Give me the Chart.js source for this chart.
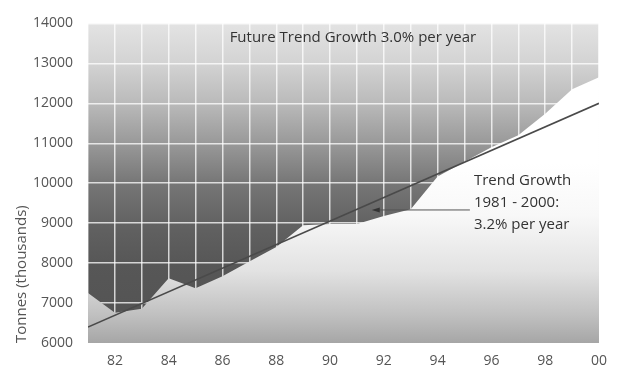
<!DOCTYPE html>
<html>
<head>
<meta charset="utf-8">
<script src="https://cdn.jsdelivr.net/npm/chart.js@4/dist/chart.umd.min.js"></script>
<style>
  html, body { margin: 0; padding: 0; background: #fff; }
  #wrap { width: 617px; height: 371px; }
</style>
</head>
<body>
<div id="wrap"><canvas id="myChart"></canvas></div>
<script>
// Yearly tonnage, 1981 - 2000
var years = [1981, 1982, 1983, 1984, 1985, 1986, 1987, 1988, 1989, 1990,
             1991, 1992, 1993, 1994, 1995, 1996, 1997, 1998, 1999, 2000];
var tonnes = [7250, 6760, 6860, 7620, 7370, 7670, 8040, 8400, 8950, 8980,
              8980, 9180, 9350, 10170, 10540, 10900, 11200, 11740, 12350, 12650];

// straight trend line, first and last year
var trendYears = [1981, 2000];
var trendTonnes = [6400, 12000];

var yTicks = [6000, 7000, 8000, 9000, 10000, 11000, 12000, 13000, 14000];

var textFont = '15px "Open Sans", "DejaVu Sans", sans-serif';

function toPoints(xs, ys) {
  return xs.map(function(x, i) { return {x: x, y: ys[i]}; });
}

// gradient built on y values so it stays tied to the axis
function valueGradient(chart, stops) {
  var y = chart.scales.y;
  var area = chart.chartArea;
  var g = chart.ctx.createLinearGradient(0, area.bottom, 0, area.top);
  var span = area.bottom - area.top;
  stops.forEach(function(s) {
    var p = (area.bottom - y.getPixelForValue(s[0])) / span;
    g.addColorStop(Math.min(1, Math.max(0, p)), s[1]);
  });
  return g;
}

// dark shaded background behind the grid
var backdrop = {
  id: 'backdrop',
  beforeDraw: function(chart) {
    var area = chart.chartArea;
    var ctx = chart.ctx;
    ctx.save();
    ctx.fillStyle = valueGradient(chart, [
      [6000, '#525252'], [8000, '#575757'], [9000, '#626262'],
      [10000, '#767676'], [11000, '#999999'], [12000, '#bababa'],
      [13000, '#d3d3d3'], [14000, '#e3e3e3']
    ]);
    ctx.fillRect(area.left, area.top, area.right - area.left, area.bottom - area.top);
    ctx.restore();
  }
};

// captions and the pointer to the trend line
var notes = {
  id: 'notes',
  afterDatasetsDraw: function(chart) {
    var ctx = chart.ctx;
    var x = chart.scales.x, y = chart.scales.y;
    ctx.save();
    ctx.font = textFont;
    ctx.fillStyle = '#333';
    ctx.textBaseline = 'middle';

    ctx.textAlign = 'center';
    ctx.fillText('Future Trend Growth 3.0% per year', x.getPixelForValue(1990.85), y.getPixelForValue(13640));

    var tx = x.getPixelForValue(1995.35);
    var ty = y.getPixelForValue(10064);
    ctx.textAlign = 'left';
    ['Trend Growth', '1981 - 2000:', '3.2% per year'].forEach(function(line, i) {
      ctx.fillText(line, tx, ty + i * 22);
    });

    // arrow
    var ax0 = x.getPixelForValue(1995.2);
    var ax1 = x.getPixelForValue(1991.55);
    var ay = y.getPixelForValue(9330);
    ctx.strokeStyle = '#555';
    ctx.lineWidth = 1;
    ctx.beginPath();
    ctx.moveTo(ax0, ay);
    ctx.lineTo(ax1 + 6, ay);
    ctx.stroke();
    ctx.fillStyle = '#333';
    ctx.beginPath();
    ctx.moveTo(ax1, ay);
    ctx.lineTo(ax1 + 8, ay - 2.5);
    ctx.lineTo(ax1 + 8, ay + 2.5);
    ctx.closePath();
    ctx.fill();
    ctx.restore();
  }
};

var config = {
  type: 'line',
  data: {
    datasets: [{
      label: 'Trend',
      data: toPoints(trendYears, trendTonnes),
      borderColor: '#4a4a4a',
      borderWidth: 1.6,
      pointRadius: 0,
      fill: false,
      order: 0
    }, {
      label: 'Tonnes',
      data: toPoints(years, tonnes),
      borderWidth: 0,
      borderColor: 'rgba(0,0,0,0)',
      pointRadius: 0,
      tension: 0,
      fill: 'start',
      backgroundColor: function(c) {
        if (!c.chart.chartArea) return '#eee';
        return valueGradient(c.chart, [
          [6000, '#a6a6a6'], [6700, '#c0c0c0'], [7800, '#e2e2e2'],
          [9200, '#f8f8f8'], [10500, '#ffffff'], [14000, '#ffffff']
        ]);
      },
      order: 1
    }]
  },
  options: {
    responsive: true,
    maintainAspectRatio: false,
    animation: false,
    layout: { padding: { top: 18, right: 17, left: 0, bottom: 0 } },
    plugins: {
      legend: { display: false },
      tooltip: { enabled: false }
    },
    scales: {
      x: {
        type: 'linear',
        min: 1981,
        max: 2000,
        border: { display: false },
        grid: { color: 'rgba(255,255,255,0.75)', lineWidth: 1.5, drawTicks: false },
        ticks: {
          stepSize: 1,
          autoSkip: false,
          maxRotation: 0,
          padding: 10,
          color: '#555',
          font: { family: '"Open Sans", "DejaVu Sans", sans-serif', size: 14 },
          callback: function(v) {
            if (v % 2 !== 0) return '';
            return String(v % 100).padStart(2, '0');
          }
        },
        afterFit: function(scale) { scale.height = 28; }
      },
      y: {
        min: 6000,
        max: 14000,
        border: { display: false },
        grid: { color: 'rgba(255,255,255,0.75)', lineWidth: 1.5, drawTicks: false },
        afterBuildTicks: function(scale) {
          scale.ticks = yTicks.map(function(v) { return {value: v}; });
        },
        ticks: {
          padding: 15,
          color: '#555',
          font: { family: '"Open Sans", "DejaVu Sans", sans-serif', size: 14 },
          callback: function(v) { return String(v); }
        },
        title: {
          display: true,
          text: 'Tonnes (thousands)',
          align: 'start',
          color: '#555',
          padding: { top: 13, bottom: 0 },
          font: { family: '"Open Sans", "DejaVu Sans", sans-serif', size: 15 }
        },
        afterFit: function(scale) { scale.width = 88; }
      }
    }
  },
  plugins: [backdrop, notes]
};

var myChart = new Chart(document.getElementById('myChart'), config);
</script>
</body>
</html>
